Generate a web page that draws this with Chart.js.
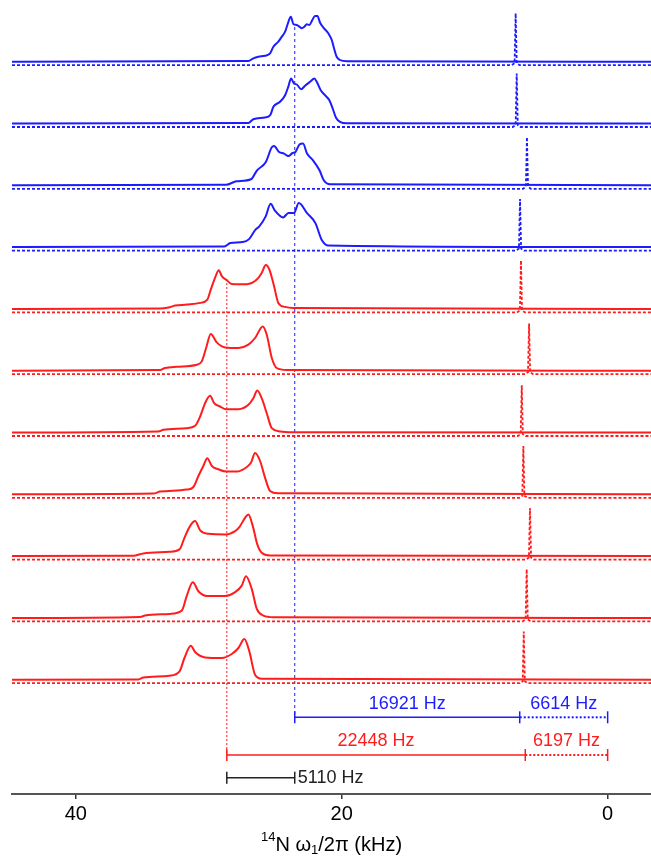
<!DOCTYPE html>
<html>
<head>
<meta charset="utf-8">
<script src="https://cdn.jsdelivr.net/npm/chart.js@4/dist/chart.umd.min.js"></script>
<style>
  body { margin: 0; background: #fff; }
  #wrap { width: 651px; height: 861px; }
</style>
</head>
<body>
<div id="wrap"><canvas id="nmrChart" width="651" height="861"></canvas></div>
<script>
// tick labels of the frequency axis (kHz)
const tickValues = [40, 20, 0];

// broad 14N powder patterns, [kHz, intensity]
const blueTraces = [
  [[27.02,0.7],[26.65,3.4],[26.27,5.0],[25.77,6.0],[25.39,8.4],[25.14,15],[24.77,20],[24.51,25],[24.26,30],[24.09,36.7],[23.83,45],[23.64,37.7],[23.38,36.7],[23.19,35],[23.01,33.4],[22.81,35],[22.63,37.4],[22.44,36.7],[22.21,41.7],[22.01,45.7],[21.83,45.7],[21.63,39],[21.33,33.4],[21.01,28.4],[20.75,21.7],[20.58,13.4],[20.38,5],[20.13,1.7],[19.62,0.4]],
  [[27.02,0.5],[26.65,4.3],[25.77,6],[25.38,8.3],[25.14,16.7],[24.64,21.7],[24.26,28.3],[24.02,36.7],[23.81,45],[23.59,40],[23.38,39],[23.06,34.3],[22.76,37.7],[22.38,41.7],[22.06,45],[21.88,41.7],[21.58,33.3],[21.26,28.3],[20.93,23.3],[20.68,15],[20.43,5.7],[20.13,1.7],[19.62,0.3]],
  [[28.70,0.5],[27.91,4],[26.82,6],[26.37,15],[25.72,23],[25.26,38],[25.09,39.3],[24.71,33.3],[24.34,31.7],[24.01,29.3],[23.70,32.3],[23.48,33.3],[23.17,41],[22.91,41.7],[22.61,31.7],[22.16,25],[21.67,15],[21.35,5],[20.88,1]],
  [[28.83,0.7],[28.38,4],[27.44,5],[26.97,8],[26.50,17.3],[26.20,20.7],[25.72,30.7],[25.35,43.3],[25.04,36.7],[24.41,29.7],[24.01,34],[23.60,34],[23.23,44],[22.61,34],[21.98,24],[21.51,7.3],[21.05,1.7]]
];
const redTraces = [
  [[33.66,0.3],[33.04,1.3],[32.53,3.3],[31.65,4.3],[30.65,6],[30.11,9.3],[29.85,19.3],[29.53,31],[29.25,38.7],[29.02,32.7],[28.65,28.7],[28.27,25],[27.14,24.7],[26.39,29.3],[26.02,36],[25.71,44],[25.44,39.3],[25.09,22.7],[24.77,6],[24.26,2],[23.64,1]],
  [[33.66,0.7],[33.29,2.7],[32.41,4],[30.90,6],[30.53,9.3],[30.20,22.7],[29.85,36.7],[29.40,28.3],[28.77,23.3],[27.77,22.7],[27.02,26],[26.52,32.7],[25.94,44.3],[25.64,36],[25.26,12.7],[24.89,2.7],[24.14,0.7]],
  [[33.79,1],[33.41,2.7],[31.65,4.3],[31.03,6.7],[30.65,16],[30.28,29.3],[29.90,36.7],[29.60,29.3],[29.15,26],[28.70,23.3],[27.77,23.3],[27.02,27.7],[26.65,34.3],[26.35,42],[26.02,34.3],[25.64,19.3],[25.26,4.3],[24.64,1],[23.64,0.3]],
  [[34.17,0.7],[33.66,2.7],[31.65,4.7],[31.16,7.3],[30.78,18.3],[30.41,28.3],[30.11,36],[29.77,28.3],[29.28,25],[28.70,22.7],[27.89,22.7],[27.14,27.3],[26.82,31.7],[26.52,41.3],[26.14,33.3],[25.77,16.7],[25.39,3.3],[24.77,1]],
  [[35.67,0.3],[34.92,2.7],[32.95,4.3],[32.20,6.7],[31.83,18.3],[31.41,30],[31.03,35],[30.65,25.7],[30.03,22.3],[28.70,21.7],[28.02,25],[27.70,29],[27.27,38.3],[27.02,41.7],[26.69,30],[26.35,11.7],[26.02,3.3],[25.41,0.7]],
  [[35.17,1],[34.79,2.3],[32.95,4],[32.03,7.3],[31.65,22.3],[31.20,35.7],[30.78,26.7],[30.15,22],[28.77,22],[28.02,25.7],[27.52,32.3],[27.20,41.7],[26.77,29],[26.39,9],[25.89,2.3],[25.14,0.7]],
  [[35.29,0.3],[34.92,2.3],[32.95,4],[32.20,8.3],[31.83,21.7],[31.35,34],[31.03,27.7],[30.28,22.3],[29.02,21.7],[28.27,25.7],[27.77,31.7],[27.32,40.7],[26.95,28.3],[26.52,5],[26.02,1]]
];

// sharp peaks on the dotted traces (kHz) and their heights
const blueSpikes = [6.92, 6.84, 6.07, 6.59];
const blueSpikeHeights = [52, 53.5, 51.6, 51.5];
const redSpikes = [6.52, 5.91, 6.46, 6.34, 5.84, 6.09, 6.31];
const redSpikeHeights = [52, 50.7, 50.7, 51.7, 51.7, 52.3, 51.7];

// splittings (Hz)
const blueSplitHz = [16921, 6614];
const redSplitHz = [22448, 6197];
const gapHz = 5110;

const BLUE = '#1c1cff';
const RED = '#ff1c1c';
const X_MIN = -3.26, X_MAX = 44.8;
const TOP_BASE = 732.3, STEP = 61.8, DOT_DROP = 3.5;
const FONT = '"Liberation Sans", Arial, Helvetica, sans-serif';

function solidData(pts, base) {
  return [{x: X_MAX, y: base}].concat(pts.map(p => ({x: p[0], y: base + p[1]})), [{x: X_MIN, y: base}]);
}
function spikeData(pos, h, base) {
  return [{x: X_MAX, y: base}, {x: pos + 0.3, y: base}, {x: pos + 0.08, y: base + 2},
          {x: pos, y: base + h}, {x: pos - 0.08, y: base + 2}, {x: pos - 0.3, y: base}, {x: X_MIN, y: base}];
}

const datasets = [];
const allTraces = blueTraces.map((t, i) => ({t, c: BLUE, s: blueSpikes[i], h: blueSpikeHeights[i]}))
  .concat(redTraces.map((t, i) => ({t, c: RED, s: redSpikes[i], h: redSpikeHeights[i]})));
allTraces.forEach((tr, i) => {
  const base = TOP_BASE - STEP * i;
  datasets.push({data: spikeData(tr.s, tr.h, base - DOT_DROP), borderColor: tr.c, borderWidth: 1.8, borderDash: [3, 2], pointRadius: 0});
  datasets.push({data: solidData(tr.t, base), borderColor: tr.c, borderWidth: 2, pointRadius: 0, cubicInterpolationMode: 'monotone'});
});

const blueStart = (blueSplitHz[0] + blueSplitHz[1]) / 1000;
const redStart = (redSplitHz[0] + redSplitHz[1]) / 1000;

// dashed guides behind the spectra
const guides = {
  id: 'guides',
  beforeDatasetsDraw(chart) {
    const {ctx, scales: {x, y}} = chart;
    ctx.save();
    ctx.lineWidth = 1;
    ctx.setLineDash([3, 3]);
    ctx.strokeStyle = BLUE;
    ctx.beginPath();
    ctx.moveTo(x.getPixelForValue(blueStart), y.getPixelForValue(767));
    ctx.lineTo(x.getPixelForValue(blueStart), y.getPixelForValue(76.7));
    ctx.stroke();
    ctx.strokeStyle = RED;
    ctx.setLineDash([2, 2]);
    ctx.beginPath();
    ctx.moveTo(x.getPixelForValue(redStart), y.getPixelForValue(515));
    ctx.lineTo(x.getPixelForValue(redStart), y.getPixelForValue(39));
    ctx.stroke();
    ctx.restore();
  }
};

function bracket(ctx, x, y, from, mid, to, yv, color, labels, labelY) {
  const py = y.getPixelForValue(yv);
  const p0 = x.getPixelForValue(from), p1 = x.getPixelForValue(mid), p2 = x.getPixelForValue(to);
  ctx.strokeStyle = color;
  ctx.fillStyle = color;
  ctx.lineWidth = 1.5;
  ctx.setLineDash([]);
  ctx.beginPath(); ctx.moveTo(p0, py); ctx.lineTo(p1, py); ctx.stroke();
  [p0, p1, p2].forEach(p => { ctx.beginPath(); ctx.moveTo(p, py - 6); ctx.lineTo(p, py + 6); ctx.stroke(); });
  ctx.lineWidth = 2;
  ctx.setLineDash([2, 2]);
  ctx.beginPath(); ctx.moveTo(p1, py); ctx.lineTo(p2, py); ctx.stroke();
  ctx.setLineDash([]);
  const ly = y.getPixelForValue(labelY);
  ctx.font = '18px ' + FONT;
  ctx.textAlign = 'center';
  ctx.textBaseline = 'middle';
  ctx.fillText(labels[0], (p0 + p1) / 2, ly);
  ctx.fillText(labels[1], (p1 + p2) / 2, ly);
}

const annotations = {
  id: 'annotations',
  afterDraw(chart) {
    const {ctx, chartArea, scales: {x, y}} = chart;
    ctx.save();
    bracket(ctx, x, y, blueStart, blueSplitHz[1] / 1000, 0, 76.7, BLUE,
      [blueSplitHz[0] + ' Hz', blueSplitHz[1] + ' Hz'], 90);
    bracket(ctx, x, y, redStart, redSplitHz[1] / 1000, 0, 39, RED,
      [redSplitHz[0] + ' Hz', redSplitHz[1] + ' Hz'], 53);
    // 5110 Hz gap between the two guides
    const gy = y.getPixelForValue(16.3);
    const g0 = x.getPixelForValue(redStart), g1 = x.getPixelForValue(redStart - gapHz / 1000);
    ctx.strokeStyle = '#222';
    ctx.fillStyle = '#222';
    ctx.lineWidth = 1.5;
    ctx.beginPath(); ctx.moveTo(g0, gy); ctx.lineTo(g1, gy); ctx.stroke();
    [g0, g1].forEach(p => { ctx.beginPath(); ctx.moveTo(p, gy - 6); ctx.lineTo(p, gy + 6); ctx.stroke(); });
    ctx.font = '18px ' + FONT;
    ctx.textAlign = 'left';
    ctx.textBaseline = 'middle';
    ctx.fillText(gapHz + ' Hz', g1 + 3, gy);

    // axis title with super/subscripts
    const parts = [
      {t: '14', size: 13, dy: -8},
      {t: 'N \u03c9', size: 20, dy: 0},
      {t: '1', size: 13, dy: 5},
      {t: '/2\u03c0 (kHz)', size: 20, dy: 0}
    ];
    let w = 0;
    parts.forEach(p => { ctx.font = p.size + 'px ' + FONT; p.w = ctx.measureText(p.t).width; w += p.w; });
    let cx = (chartArea.left + chartArea.right) / 2 - w / 2;
    ctx.fillStyle = '#000';
    ctx.textAlign = 'left';
    ctx.textBaseline = 'middle';
    parts.forEach(p => { ctx.font = p.size + 'px ' + FONT; ctx.fillText(p.t, cx, 845 + p.dy); cx += p.w; });
    ctx.restore();
  }
};

const ctx = document.getElementById('nmrChart').getContext('2d');
new Chart(ctx, {
  type: 'line',
  data: {datasets},
  options: {
    responsive: false,
    animation: false,
    devicePixelRatio: 1,
    layout: {padding: {left: 12, right: 0, top: 0, bottom: 32}},
    plugins: {legend: {display: false}, tooltip: {enabled: false}},
    elements: {line: {tension: 0, fill: false}},
    scales: {
      x: {
        type: 'linear',
        reverse: true,
        min: X_MIN,
        max: X_MAX,
        afterBuildTicks(scale) { scale.ticks = tickValues.map(v => ({value: v})); },
        grid: {display: true, drawOnChartArea: false, drawTicks: true, tickLength: 5, color: '#333', lineWidth: 1.5},
        border: {display: true, color: '#555', width: 2},
        ticks: {color: '#000', padding: 3, font: {size: 20, family: FONT}}
      },
      y: {type: 'linear', display: false, min: 0, max: 794}
    }
  },
  plugins: [guides, annotations]
});
</script>
</body>
</html>
